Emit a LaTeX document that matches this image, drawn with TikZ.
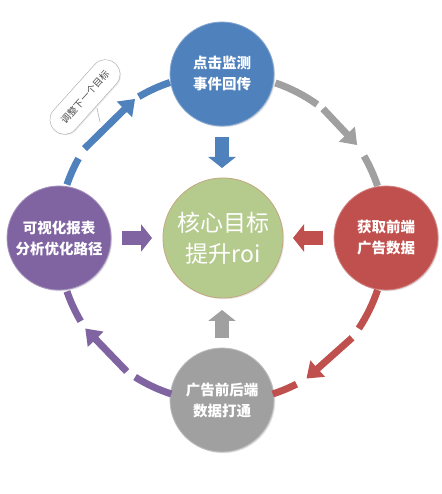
\documentclass[tikz,border=0pt]{standalone}
\usepackage{fontspec}
\newfontfamily\cjk{Noto Sans CJK SC}
\usetikzlibrary{arrows.meta,calc,shadows}
\definecolor{cblue}{HTML}{4F81BD}
\definecolor{cred}{HTML}{C0504D}
\definecolor{cpurple}{HTML}{8064A2}
\definecolor{cgray}{HTML}{A0A0A0}
\definecolor{cgreen}{HTML}{B5CB8E}
\definecolor{cgborder}{HTML}{C4A77E}
\begin{document}
\begin{tikzpicture}[x=1pt,y=1pt,
  stage/.style={circle,minimum size=104pt,inner sep=0pt,text=white,align=center,
    font=\cjk\bfseries\fontsize{14.5}{21}\selectfont,
    drop shadow={opacity=0.25,shadow xshift=1.2pt,shadow yshift=-1.2pt}},
  ring/.style={line width=7pt},
  ringarrow/.style={line width=7pt,-{Triangle[length=15pt,width=21pt]}},
  inarrow/.style={line width=14pt,-{Triangle[length=11pt,width=27pt]}}]
\useasboundingbox[fill=white] (0,0) rectangle (441,494);
\coordinate (C) at (222,256);
\def\R{164}
% nodes
\node[stage,fill=cblue,draw=cblue!70!white,line width=0.8pt] (T) at (222,420) {点击监测\\事件回传};
\node[stage,fill=cred,draw=cred!70!white,line width=0.8pt] (Rt) at (386,256) {获取前端\\广告数据};
\node[stage,fill=cgray,draw=cgray!70!white,line width=0.8pt] (B) at (222,94) {广告前后端\\数据打通};
\node[stage,fill=cpurple,draw=cpurple!70!white,line width=0.8pt] (L) at (59,256) {可视化报表\\分析优化路径};
\node[circle,minimum size=120pt,inner sep=0pt,fill=cgreen,draw=cgborder,line width=0.8pt,
  text=white,align=center,font=\cjk\fontsize{23}{31}\selectfont,
  drop shadow={opacity=0.2,shadow xshift=1.2pt,shadow yshift=-1.2pt}] (M) at (223,256) {核心目标\\提升roi};
% ring: left -> top (blue)
\draw[ring,cblue] ($(C)+(161:\R)$) arc[start angle=161,end angle=151,radius=\R];
\draw[ringarrow,cblue] ($(C)+(147:\R)$) -- ($(C)+(122:\R)$);
\draw[ring,cblue] ($(C)+(120.5:\R)$) arc[start angle=120.5,end angle=108.5,radius=\R];
% top -> right (gray)
\draw[ring,cgray] ($(C)+(71:\R)$) arc[start angle=71,end angle=54.5,radius=\R];
\draw[ringarrow,cgray] ($(C)+(52:\R)$) -- ($(C)+(34.5:\R)$);
\draw[ring,cgray] ($(C)+(30:\R)$) arc[start angle=30,end angle=18.5,radius=\R];
% right -> bottom (red)
\draw[ring,cred] ($(C)+(-18.5:\R)$) arc[start angle=-18.5,end angle=-33.5,radius=\R];
\draw[ringarrow,cred] ($(C)+(-37.5:\R)$) -- ($(C)+(-59:\R)$);
\draw[ring,cred] ($(C)+(-63:\R)$) arc[start angle=-63,end angle=-72,radius=\R];
% bottom -> left (purple)
\draw[ring,cpurple] ($(C)+(252:\R)$) arc[start angle=252,end angle=238,radius=\R];
\draw[ringarrow,cpurple] ($(C)+(234.5:\R)$) -- ($(C)+(213.5:\R)$);
\draw[ring,cpurple] ($(C)+(210.5:\R)$) arc[start angle=210.5,end angle=199,radius=\R];
% inward arrows
\draw[inarrow,cblue] (222,357) -- (222,326);
\draw[inarrow,cgray] (222,156) -- (222,184);
\draw[inarrow,cpurple] (122,256) -- (152,256);
\draw[inarrow,cred] (323,256) -- (293,256);
% callout bubble
\coordinate (tail) at (100,372);
\node[draw=black!35,fill=white,rounded corners=14pt,minimum width=90pt,minimum height=29pt,
  rotate=48,text=black!70,font=\cjk\fontsize{9.5}{11}\selectfont,
  drop shadow={opacity=0.15,shadow xshift=1pt,shadow yshift=-1pt}] (bub) at (85,397) {调整下一个目标};
\draw[black!30,line width=0.6pt] (bub.south) ++(1,-1) -- (tail);
\end{tikzpicture}
\end{document}
